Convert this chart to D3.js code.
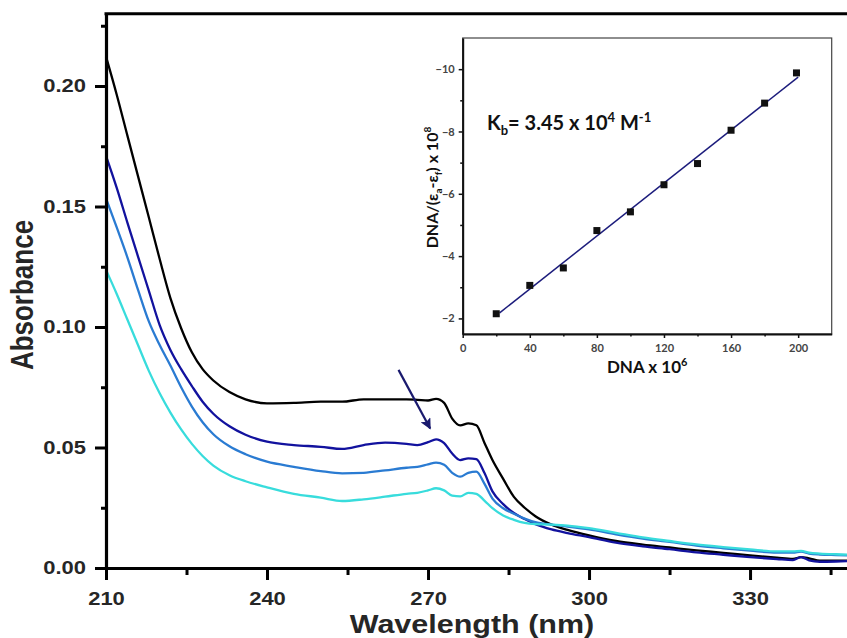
<!DOCTYPE html>
<html>
<head>
<meta charset="utf-8">
<script src="https://cdn.jsdelivr.net/npm/d3@7"></script>
<style>
  html, body { margin: 0; padding: 0; background: #fff; }
  svg { display: block; }
</style>
</head>
<body>
<div id="chart"></div>
<script>
// ---- data: UV-vis titration spectra ----
const wavelength = [210, 212, 214, 216, 218, 220, 222, 224, 226, 228, 230, 233, 236, 240, 245, 250, 254, 258, 262, 266,
  268, 270, 271.5, 273, 274.5, 276, 277.5, 279, 280.5, 282, 284, 286, 288, 290, 293, 296, 300, 305, 310, 315,
  320, 325, 330, 335, 338, 339.5, 341, 343, 346, 350];

const absBlack = [0.2122, 0.1964, 0.1793, 0.1623, 0.1453, 0.1282, 0.1120, 0.0995, 0.0895, 0.0825, 0.0778, 0.0730, 0.0700, 0.0683, 0.0685, 0.0690, 0.0690, 0.0700, 0.0700, 0.0700,
  0.0698, 0.0695, 0.0702, 0.0685, 0.0620, 0.0592, 0.0600, 0.0592, 0.0520, 0.0448, 0.0370, 0.0295, 0.0250, 0.0215, 0.0180, 0.0158, 0.0135, 0.0112, 0.0097, 0.0085,
  0.0073, 0.0063, 0.0052, 0.0043, 0.0038, 0.0045, 0.0040, 0.0030, 0.0030, 0.0030];

const absNavy = [0.1710, 0.1577, 0.1432, 0.1290, 0.1149, 0.1008, 0.0905, 0.0825, 0.0755, 0.0690, 0.0640, 0.0588, 0.0553, 0.0524, 0.0510, 0.0503, 0.0494, 0.0510, 0.0520, 0.0515,
  0.0510, 0.0522, 0.0534, 0.0518, 0.0475, 0.0448, 0.0455, 0.0452, 0.0395, 0.0318, 0.0265, 0.0228, 0.0203, 0.0182, 0.0160, 0.0145, 0.0128, 0.0105, 0.0090, 0.0078,
  0.0065, 0.0055, 0.0045, 0.0037, 0.0033, 0.0045, 0.0032, 0.0026, 0.0027, 0.0030];

const absBlue = [0.1534, 0.1413, 0.1288, 0.1152, 0.1022, 0.0925, 0.0840, 0.0750, 0.0670, 0.0605, 0.0555, 0.0505, 0.0472, 0.0441, 0.0420, 0.0402, 0.0393, 0.0395, 0.0405, 0.0416,
  0.0420, 0.0430, 0.0437, 0.0428, 0.0395, 0.0379, 0.0395, 0.0400, 0.0350, 0.0288, 0.0248, 0.0225, 0.0205, 0.0190, 0.0180, 0.0172, 0.0160, 0.0140, 0.0122, 0.0108,
  0.0093, 0.0082, 0.0072, 0.0064, 0.0064, 0.0068, 0.0060, 0.0056, 0.0054, 0.0052];

const absCyan = [0.1237, 0.1137, 0.1030, 0.0923, 0.0817, 0.0725, 0.0645, 0.0575, 0.0515, 0.0465, 0.0425, 0.0385, 0.0360, 0.0335, 0.0308, 0.0292, 0.0278, 0.0285, 0.0296, 0.0308,
  0.0312, 0.0322, 0.0331, 0.0322, 0.0300, 0.0297, 0.0312, 0.0308, 0.0280, 0.0248, 0.0218, 0.0200, 0.0187, 0.0182, 0.0180, 0.0176, 0.0165, 0.0146, 0.0127, 0.0112,
  0.0098, 0.0087, 0.0077, 0.0069, 0.0069, 0.0071, 0.0064, 0.0060, 0.0057, 0.0055];

const spectra = [absBlack, absNavy, absBlue, absCyan];
const spectraColors = ['#000000', '#12129e', '#2a7bd2', '#38dcdc'];

const mainXTicks = [210, 240, 270, 300, 330];
const mainXMinor = [225, 255, 285, 315, 345];
const mainYTicks = [0, 0.05, 0.10, 0.15, 0.20];
const mainYMinor = [0.025, 0.075, 0.125, 0.175, 0.225];

// arrow showing the hypochromic trend (data coords)
const arrowFrom = [264.5, 0.0822];
const arrowTo = [270.4, 0.0579];

// ---- inset: DNA/(ea-ef) vs DNA ----
const dnaConc = [20, 40, 60, 80, 100, 120, 140, 160, 180, 199];
const dnaRatio = [-2.15, -3.06, -3.62, -4.82, -5.42, -6.29, -6.97, -8.04, -8.91, -9.88];
const insetXTicks = [0, 40, 80, 120, 160, 200];
const insetXMinor = [20, 60, 100, 140, 180];
const insetYTicks = [-2, -4, -6, -8, -10];
const insetYMinor = [-3, -5, -7, -9];

// ---- setup ----
const W = 847, H = 638;
const STRETCH = 1.22; // source figure is horizontally stretched
const FONT = '"Liberation Sans", Arial, sans-serif';
const IFONT = 'Lato, "Open Sans", sans-serif';

const svg = d3.select('#chart').append('svg')
  .attr('width', W)
  .attr('height', H);

// widen text about its anchor x
function stretchText(sel, k) {
  sel.each(function () {
    const t = d3.select(this);
    const x0 = +t.attr('x') || 0;
    t.attr('transform', `translate(${x0 * (1 - k)},0) scale(${k},1)`);
  });
}

const x = d3.scaleLinear().domain([210, 350]).range([106, 857.4]);
const y = d3.scaleLinear().domain([0, 0.23]).range([568, 13.7]);

// spectra
const line = d3.line()
  .x((d, i) => x(wavelength[i]))
  .y(d => y(d))
  .curve(d3.curveMonotoneX);

svg.append('g')
  .selectAll('path')
  .data(spectra)
  .join('path')
  .attr('d', d => line(d))
  .attr('fill', 'none')
  .attr('stroke', (d, i) => spectraColors[i])
  .attr('stroke-width', 2.3)
  .attr('stroke-linejoin', 'round');

// axes
const gxMinor = svg.append('g').attr('transform', `translate(0,${y(0)})`)
  .call(d3.axisBottom(x).tickValues(mainXMinor).tickSize(7).tickFormat(''));
const gx = svg.append('g').attr('transform', `translate(0,${y(0)})`)
  .call(d3.axisBottom(x).tickValues(mainXTicks).tickSize(12).tickPadding(12).tickSizeOuter(0).tickFormat(d3.format('d')));
const gyMinor = svg.append('g').attr('transform', `translate(${x(210)},0)`)
  .call(d3.axisLeft(y).tickValues(mainYMinor).tickSize(5).tickFormat(''));
const gy = svg.append('g').attr('transform', `translate(${x(210)},0)`)
  .call(d3.axisLeft(y).tickValues(mainYTicks).tickSize(11).tickPadding(9).tickSizeOuter(0).tickFormat(d3.format('.2f')));

[gxMinor, gyMinor].forEach(g => g.select('.domain').remove());
[gx, gy, gxMinor, gyMinor].forEach(g => {
  g.selectAll('line').style('stroke', '#000').style('stroke-width', 3);
  g.select('.domain').style('stroke', '#000').style('stroke-width', 3.2);
});
[gx, gy].forEach(g => {
  g.selectAll('text')
    .attr('fill', '#262626')
    .style('font-family', FONT)
    .style('font-weight', 'bold')
    .style('font-size', '18px')
    .call(stretchText, STRETCH);
});

// top frame
svg.append('line')
  .attr('x1', x(210) - 1.5).attr('x2', W)
  .attr('y1', y(0.23)).attr('y2', y(0.23))
  .style('stroke', '#000').style('stroke-width', 3);

// axis titles
svg.append('text')
  .attr('x', 472).attr('y', 633)
  .attr('text-anchor', 'middle')
  .attr('fill', '#262626')
  .style('font-family', FONT).style('font-weight', 'bold').style('font-size', '25px')
  .text('Wavelength (nm)')
  .call(stretchText, STRETCH);

svg.append('text')
  .attr('transform', `translate(33,295) scale(${STRETCH},1) rotate(-90)`)
  .attr('text-anchor', 'middle')
  .attr('fill', '#262626')
  .style('font-family', FONT).style('font-weight', 'bold').style('font-size', '26px')
  .text('Absorbance');

// arrow
const defs = svg.append('defs');
defs.append('marker')
  .attr('id', 'head')
  .attr('viewBox', '0 0 10 10')
  .attr('refX', 9).attr('refY', 5)
  .attr('markerWidth', 6.5).attr('markerHeight', 5)
  .attr('orient', 'auto')
  .append('path')
  .attr('d', 'M0,0L10,5L0,10L2,5Z')
  .attr('fill', '#1a1a6e');

svg.append('line')
  .attr('x1', x(arrowFrom[0])).attr('y1', y(arrowFrom[1]))
  .attr('x2', x(arrowTo[0])).attr('y2', y(arrowTo[1]))
  .attr('stroke', '#1a1a6e').attr('stroke-width', 2.2)
  .attr('marker-end', 'url(#head)');

// ---- inset ----
const xi = d3.scaleLinear().domain([0, 220]).range([462.7, 831.7]);
const yi = d3.scaleLinear().domain([-1.5, -11]).range([334, 38]);

const inset = svg.append('g');
inset.append('rect')
  .attr('x', xi(0)).attr('y', yi(-11))
  .attr('width', xi(220) - xi(0)).attr('height', yi(-1.5) - yi(-11))
  .attr('fill', '#fff')
  .attr('stroke', '#444').attr('stroke-width', 1.2);

const gix = inset.append('g').attr('transform', `translate(0,${yi(-1.5)})`)
  .call(d3.axisBottom(xi).tickValues(insetXTicks).tickSize(4).tickPadding(6).tickSizeOuter(0));
const gixMinor = inset.append('g').attr('transform', `translate(0,${yi(-1.5)})`)
  .call(d3.axisBottom(xi).tickValues(insetXMinor).tickSize(2.5).tickFormat(''));
const giy = inset.append('g').attr('transform', `translate(${xi(0)},0)`)
  .call(d3.axisLeft(yi).tickValues(insetYTicks).tickSize(4).tickPadding(4).tickSizeOuter(0).tickFormat(d3.format('d')));
const giyMinor = inset.append('g').attr('transform', `translate(${xi(0)},0)`)
  .call(d3.axisLeft(yi).tickValues(insetYMinor).tickSize(2.5).tickFormat(''));

[gixMinor, giyMinor].forEach(g => g.select('.domain').remove());
[gix, giy, gixMinor, giyMinor].forEach(g => {
  g.selectAll('line').style('stroke', '#111').style('stroke-width', 1.5);
  g.select('.domain').style('stroke', '#111').style('stroke-width', 2);
});
[gix, giy].forEach(g => {
  g.selectAll('text')
    .attr('fill', '#444')
    .style('font-family', IFONT)
    .style('font-weight', 'bold')
    .style('font-size', '11px');
});

// least-squares fit through the points
const mx = d3.mean(dnaConc), my = d3.mean(dnaRatio);
const sxy = d3.sum(dnaConc, (d, i) => (d - mx) * (dnaRatio[i] - my));
const sxx = d3.sum(dnaConc, d => (d - mx) * (d - mx));
const slope = sxy / sxx;
const icpt = my - slope * mx;
const fitRange = [22, 200];

inset.append('line')
  .attr('x1', xi(fitRange[0])).attr('y1', yi(icpt + slope * fitRange[0]))
  .attr('x2', xi(fitRange[1])).attr('y2', yi(icpt + slope * fitRange[1]))
  .attr('stroke', '#1c1c7c').attr('stroke-width', 1.5);

inset.append('g')
  .selectAll('rect')
  .data(dnaConc)
  .join('rect')
  .attr('x', d => xi(d) - 3.5)
  .attr('y', (d, i) => yi(dnaRatio[i]) - 3.5)
  .attr('width', 7).attr('height', 7)
  .attr('fill', '#111');

// inset titles
const kb = inset.append('text')
  .attr('x', 487).attr('y', 130)
  .attr('fill', '#111')
  .style('font-family', IFONT).style('font-weight', 'bold').style('font-size', '20px');
kb.append('tspan').text('K');
kb.append('tspan').attr('dy', 5).style('font-size', '13px').text('b');
kb.append('tspan').attr('dy', -5).text('= 3.45 x 10');
kb.append('tspan').attr('dy', -8).style('font-size', '13px').text('4');
kb.append('tspan').attr('dy', 8).text(' M');
kb.append('tspan').attr('dy', -8).style('font-size', '13px').text('-1');

const xl = inset.append('text')
  .attr('x', xi(110)).attr('y', 373)
  .attr('text-anchor', 'middle')
  .attr('fill', '#111')
  .style('font-family', IFONT).style('font-weight', 'bold').style('font-size', '17px');
xl.append('tspan').text('DNA x 10');
xl.append('tspan').attr('dy', -7).style('font-size', '11px').text('6');

const yl = inset.append('text')
  .attr('transform', `translate(438,${yi(-6.2)}) rotate(-90)`)
  .attr('text-anchor', 'middle')
  .attr('fill', '#111')
  .style('font-family', IFONT).style('font-weight', 'bold').style('font-size', '16px');
yl.append('tspan').text('DNA/(ε');
yl.append('tspan').attr('dy', 4).style('font-size', '10px').text('a');
yl.append('tspan').attr('dy', -4).text('-ε');
yl.append('tspan').attr('dy', 4).style('font-size', '10px').text('f');
yl.append('tspan').attr('dy', -4).text(') x 10');
yl.append('tspan').attr('dy', -7).style('font-size', '10px').text('8');
</script>
</body>
</html>
